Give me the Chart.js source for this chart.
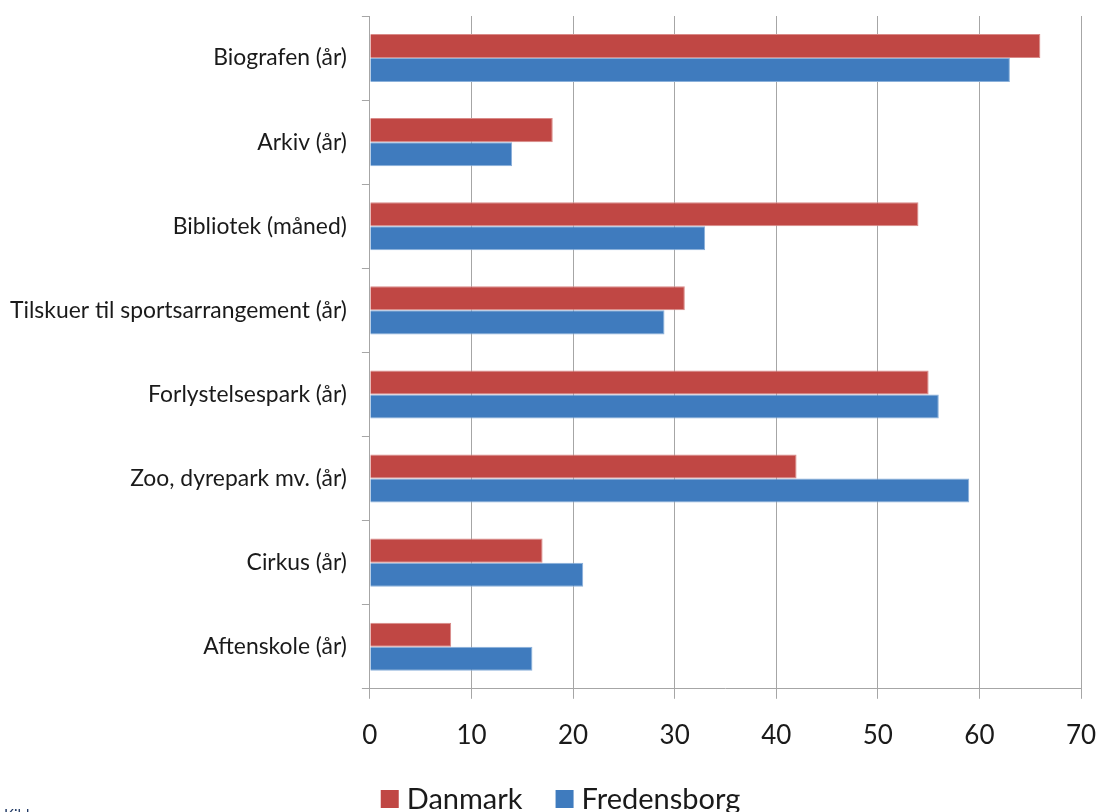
<!DOCTYPE html>
<html>
<head>
<meta charset="utf-8">
<script src="https://cdn.jsdelivr.net/npm/chart.js@4/dist/chart.umd.min.js"></script>
<style>
  html, body { margin: 0; padding: 0; background: #ffffff; overflow: hidden; }
  #wrap { position: relative; width: 1101px; height: 812px; overflow: hidden; }
  #note { position: absolute; left: 4px; top: 805px; font-family: Lato, "Noto Sans", sans-serif; font-size: 15px; color: #1F3864; }
</style>
</head>
<body>
<div id="wrap">
  <canvas id="c" width="1101" height="812"></canvas>
  <div id="note">Kilde</div>
</div>
<script>
const categories = [
  "Biografen (år)",
  "Arkiv (år)",
  "Bibliotek (måned)",
  "Tilskuer til sportsarrangement (år)",
  "Forlystelsespark (år)",
  "Zoo, dyrepark mv. (år)",
  "Cirkus (år)",
  "Aftenskole (år)"
];
const danmark = [66, 18, 54, 31, 55, 42, 17, 8];
const fredensborg = [63, 14, 33, 29, 56, 59, 21, 16];
const xTicks = [0, 10, 20, 30, 40, 50, 60, 70];
const seriesNames = ["Danmark", "Fredensborg"];
const seriesColors = ["#C04744", "#3F7BBE"];

const FONT = 'Lato, "Noto Sans", sans-serif';

const bottomLegend = {
  id: 'bottomLegend',
  afterDraw(chart) {
    const ctx = chart.ctx;
    ctx.save();
    ctx.font = '29px ' + FONT;
    ctx.textBaseline = 'middle';
    ctx.textAlign = 'left';
    const box = 18, gap = 8, sep = 33, cy = 799;
    const items = chart.data.datasets.map(d => ({ label: d.label, color: d.backgroundColor, w: ctx.measureText(d.label).width }));
    const total = items.reduce((s, it) => s + box + gap + it.w, 0) + sep * (items.length - 1);
    let x = chart.width / 2 + 10 - total / 2;
    items.forEach(it => {
      ctx.fillStyle = it.color;
      ctx.fillRect(x, cy - box / 2, box, box);
      ctx.fillStyle = '#1a1a1a';
      ctx.fillText(it.label, x + box + gap, cy + 1);
      x += box + gap + it.w + sep;
    });
    ctx.restore();
  }
};

function build() {
  new Chart(document.getElementById('c'), {
    type: 'bar',
    data: {
      labels: categories,
      datasets: [
        { label: seriesNames[0], data: danmark, backgroundColor: seriesColors[0], borderColor: '#D98A88', borderWidth: 1, categoryPercentage: 0.572, barPercentage: 1.0 },
        { label: seriesNames[1], data: fredensborg, backgroundColor: seriesColors[1], borderColor: '#8AB0DA', borderWidth: 1, categoryPercentage: 0.572, barPercentage: 1.0 }
      ]
    },
    options: {
      indexAxis: 'y',
      responsive: false,
      animation: false,
      devicePixelRatio: 1,
      layout: { padding: { top: 16, right: 20, left: -5, bottom: 40 } },
      scales: {
        x: {
          min: 0, max: 70,
          afterBuildTicks: (s) => { s.ticks = xTicks.map(v => ({ value: v })); },
          afterFit: (s) => { s.paddingLeft = 0; s.paddingRight = 0; },
          grid: { color: '#A6A6A6', lineWidth: 1, tickLength: 10, drawOnChartArea: true, drawTicks: true },
          border: { display: true, color: '#A6A6A6', width: 1 },
          ticks: { color: '#1a1a1a', font: { family: FONT, size: 26 }, padding: 21 }
        },
        y: {
          offset: true,
          afterFit: (s) => { s.paddingTop = 0; s.paddingBottom = 0; },
          grid: { offset: true, drawOnChartArea: false, drawTicks: true, tickLength: 8, color: '#A6A6A6' },
          border: { display: true, color: '#A6A6A6', width: 1 },
          ticks: { color: '#1a1a1a', font: { family: FONT, size: 22.9 }, padding: 15 }
        }
      },
      plugins: {
        legend: { display: false },
        tooltip: { enabled: false }
      }
    },
    plugins: [bottomLegend]
  });
}

Promise.all([
  document.fonts.load('22.9px Lato'),
  document.fonts.load('26px Lato'),
  document.fonts.load('29px Lato')
]).then(build, build);
</script>
</body>
</html>
